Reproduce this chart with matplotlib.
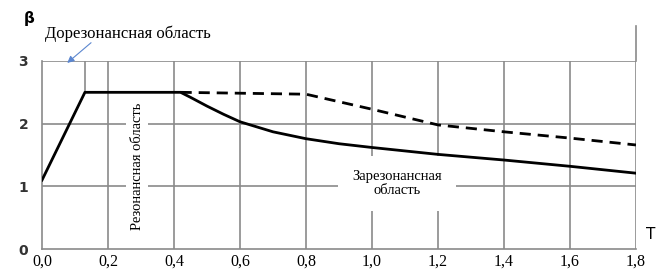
import matplotlib.pyplot as plt

# solid curve (beta, basic)
t_solid = [0.0, 0.13, 0.42, 0.45, 0.5, 0.55, 0.6, 0.7, 0.8, 0.9, 1.0, 1.2, 1.4, 1.6, 1.8]
b_solid = [1.1, 2.5, 2.5, 2.42, 2.28, 2.15, 2.03, 1.87, 1.76, 1.68, 1.62, 1.51, 1.42, 1.32, 1.21]

# dashed curve
t_dash = [0.42, 0.8, 1.0, 1.2, 1.4, 1.6, 1.8]
b_dash = [2.5, 2.47, 2.23, 1.98, 1.87, 1.77, 1.66]

x_ticks = [0.0, 0.2, 0.4, 0.6, 0.8, 1.0, 1.2, 1.4, 1.6, 1.8]
x_labels = ['0,0', '0,2', '0,4', '0,6', '0,8', '1,0', '1,2', '1,4', '1,6', '1,8']
y_ticks = [0, 1, 2, 3]

grid_c = '#8a8a8a'
serif = 'Liberation Serif'

fig = plt.figure(figsize=(6.67, 2.71), dpi=100)
ax = fig.add_axes([0.063, 0.081, 0.8905, 0.694])

ax.set_xlim(0, 1.8)
ax.set_ylim(0, 3)

# grid
for x in x_ticks[1:]:
    ax.plot([x, x], [0, 3], color=grid_c, lw=1.2, zorder=1)
for y in y_ticks[1:]:
    ax.plot([0, 1.8], [y, y], color=grid_c, lw=1.2, zorder=1)
# extra vertical line at the corner of the plateau
ax.plot([0.13, 0.13], [2.5, 3], color=grid_c, lw=1.2, zorder=1)
# right border goes up past the top
ax.plot([1.8, 1.8], [3, 3.55], color=grid_c, lw=1.2, zorder=1, clip_on=False)

for s in ['top', 'right']:
    ax.spines[s].set_visible(False)
for s in ['left', 'bottom']:
    ax.spines[s].set_color(grid_c)
    ax.spines[s].set_linewidth(1.2)

ax.plot(t_solid, b_solid, color='black', lw=2, zorder=3)
ax.plot(t_dash, b_dash, color='black', lw=2, ls=(0, (4, 2.5)), zorder=3)

ax.set_xticks(x_ticks)
ax.set_xticklabels(x_labels, fontfamily=serif, fontsize=11.5)
ax.set_yticks(y_ticks)
ax.set_yticklabels([str(y) for y in y_ticks], fontsize=10, fontweight='bold', color='#333333')
ax.tick_params(length=0)
ax.tick_params(axis='x', pad=3)
ax.tick_params(axis='y', pad=10)

ax.text(-0.04, 3.68, 'β', fontsize=11, fontweight='bold', ha='center', va='center', clip_on=False)
ax.text(1.845, 0.24, 'T', fontsize=11, ha='center', va='center', clip_on=False)

ax.text(0.01, 3.43, 'Дорезонансная область', fontfamily=serif, fontsize=12,
        ha='left', va='center', clip_on=False)
ax.annotate('', xy=(0.07, 2.94), xytext=(0.155, 3.32),
            arrowprops=dict(arrowstyle='-|>', color='#5b86cf', lw=0.8, mutation_scale=10),
            annotation_clip=False)

ax.text(0.288, 1.32, 'Резонансная область', fontfamily=serif, fontsize=10.5,
        rotation=90, ha='center', va='center', zorder=2,
        bbox=dict(facecolor='white', edgecolor='none', pad=3))
ax.text(1.076, 1.05, 'Зарезонансная\nобласть', fontfamily=serif, fontsize=10.5,
        ha='center', va='center', linespacing=1.1, zorder=2,
        bbox=dict(facecolor='white', edgecolor='none', pad=10))

fig.savefig('out.png', dpi=100)
